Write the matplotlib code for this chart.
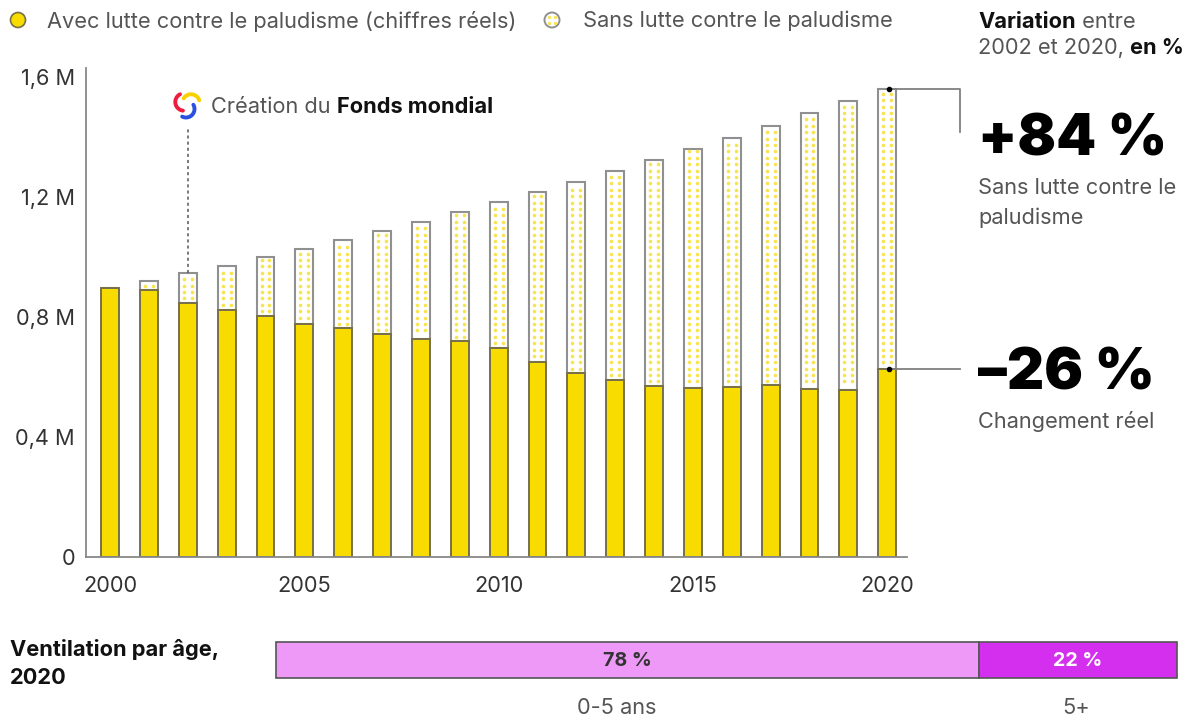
"""Paludisme chart."""
import matplotlib
matplotlib.use("Agg")
import matplotlib.pyplot as plt
from matplotlib.patches import Circle
import numpy as np

plt.rcParams["font.family"] = ["Inter", "DejaVu Sans"]

years = list(range(2000, 2021))
real_values = [0.897, 0.890, 0.847, 0.823, 0.803, 0.777, 0.763, 0.743, 0.727, 0.720, 0.697,
               0.650, 0.613, 0.590, 0.570, 0.563, 0.567, 0.573, 0.560, 0.557, 0.627]
total_values = [0.897, 0.920, 0.947, 0.970, 1.000, 1.027, 1.057, 1.087, 1.117, 1.150, 1.183,
                1.217, 1.250, 1.287, 1.323, 1.360, 1.397, 1.437, 1.480, 1.520, 1.560]
y_ticks = [0, 0.4, 0.8, 1.2, 1.6]
y_labels = ["0", "0,4 M", "0,8 M", "1,2 M", "1,6 M"]
x_ticks = [2000, 2005, 2010, 2015, 2020]
age_labels = ["0-5 ans", "5+"]
age_values = [78, 22]

YELLOW = "#F8DC00"
DOT = "#F8E450"
GREY = "#808080"
TEXT = "#555555"
DARK = "#111111"
FS = 15.7
W, H = 1190, 719

fig = plt.figure(figsize=(W / 100, H / 100), dpi=100)


def px_axes(left, top, right, bottom):
    return fig.add_axes([left / W, 1 - bottom / H, (right - left) / W, (bottom - top) / H])


# Overlay in pixel coordinates, for the text around the chart
over = fig.add_axes([0, 0, 1, 1], zorder=5)
over.set_xlim(0, W)
over.set_ylim(H, 0)
over.axis("off")


def label(x, y, text, **kwargs):
    kwargs.setdefault("fontsize", FS)
    kwargs.setdefault("color", TEXT)
    return over.text(x, y, text, va="center", ha="left", **kwargs)


def rich_text(x, y, parts):
    """Write (text, bold) pieces one after the other on a line."""
    renderer = fig.canvas.get_renderer()
    for text, bold in parts:
        t = label(x, y, text, color=DARK if bold else TEXT,
                  fontweight="bold" if bold else "normal")
        x += t.get_window_extent(renderer).width


# Main chart
ax = px_axes(86, 68, 907, 557)
ax.set_xlim(1999.38, 2020.51)
ax.set_ylim(0, 1.63)
missing = [t - r for t, r in zip(total_values, real_values)]
ax.bar(years, missing, bottom=real_values, width=0.46, fill=False,
       edgecolor="#909090", linewidth=1.5)
ax.bar(years, real_values, width=0.46, color=YELLOW, edgecolor="#77704a", linewidth=1.4)

# Dotted fill of the "sans lutte" part
for year, low, high in zip(years, real_values, total_values):
    levels = np.arange(0.01, 1.6, 0.0213)
    levels = levels[(levels > low + 0.008) & (levels < high - 0.008)]
    for offset in [-0.1, 0.1]:
        ax.plot(np.full(len(levels), year + offset), levels, ls="none", marker="o",
                ms=2.6, mew=0, color=DOT)

for side in ["top", "right"]:
    ax.spines[side].set_visible(False)
for side in ["left", "bottom"]:
    ax.spines[side].set_color("#888888")
    ax.spines[side].set_linewidth(1.3)
ax.set_yticks(y_ticks, y_labels, fontsize=FS, color="#333333")
ax.set_xticks(x_ticks, [str(v) for v in x_ticks], fontsize=FS, color="#333333")
ax.tick_params(axis="both", length=0)
ax.tick_params(axis="x", pad=14)
ax.tick_params(axis="y", pad=8)

# Fonds mondial marker
ax.plot([2002, 2002], [total_values[2], 1.43], color="#555555", lw=1.1, ls=(0, (2, 2)))
blades = [((184, 102), 8.7, 117, 263, "#EE1C3E"),
          ((191, 103), 8.7, 18, 148, "#F8D000"),
          ((186, 109), 8.5, -117, 30, "#2B4FE0")]
for center, radius, start, end, colour in blades:
    angle = np.radians(np.linspace(start, end, 30))
    over.plot(center[0] + radius * np.cos(angle), center[1] - radius * np.sin(angle),
              color=colour, lw=2.8, solid_capstyle="round")
fig.canvas.draw()
rich_text(211, 107, [("Création du ", False), ("Fonds mondial", True)])

# Connectors to the variation figures
ax.plot([2020, 2021.88, 2021.88], [total_values[-1], total_values[-1], 1.417],
        color=GREY, lw=1.3, clip_on=False, zorder=4)
ax.plot([2020, 2021.88], [real_values[-1], real_values[-1]],
        color=GREY, lw=1.3, clip_on=False, zorder=4)
ax.plot([2020.05, 2020.05], [total_values[-1], real_values[-1]], ls="none", marker="o", ms=3,
        color="black", clip_on=False, zorder=5)

# Legend
over.add_patch(Circle((18, 20), 7.5, facecolor=YELLOW, edgecolor="#77704a", lw=1.2))
label(47, 21, "Avec lutte contre le paludisme (chiffres réels)")
over.add_patch(Circle((552, 20), 7.5, facecolor="white", edgecolor="#909090", lw=1.4))
over.plot([549, 555, 549, 555], [17, 17, 23, 23], ls="none", marker="o", ms=2.4, mew=0, color=DOT)
label(583, 21, "Sans lutte contre le paludisme")

# Right column
rich_text(978, 22, [("Variation", True), (" entre", False)])
rich_text(978, 48, [("2002 et 2020, ", False), ("en %", True)])
label(978, 140, "+84 %", fontsize=41, fontweight="black", color="black")
label(978, 188, "Sans lutte contre le")
label(978, 218, "paludisme")
label(978, 375, "–26 %", fontsize=41.5, fontweight="black", color="black")
label(978, 422, "Changement réel")

# Age split
bar_ax = px_axes(276, 642, 1177, 678)
bar_ax.set_xlim(0, sum(age_values))
bar_ax.set_ylim(0, 1)
bar_ax.axis("off")
age_colours = ["#EE99F8", "#D42FEF"]
age_text = ["#333333", "white"]
name_shift = [-1.2, -0.2]
start = 0
for name, value, colour, tcolour, shift in zip(age_labels, age_values, age_colours, age_text, name_shift):
    bar_ax.barh(0.5, value, left=start, height=1, color=colour, edgecolor="#555555",
                linewidth=1.2, clip_on=False)
    bar_ax.text(start + value / 2, 0.47, f"{value} %", ha="center", va="center",
                fontsize=14.2, fontweight="bold", color=tcolour)
    bar_ax.text(start + value / 2 + shift, -0.82, name, ha="center", va="center",
                fontsize=FS, color=TEXT, clip_on=False)
    start += value
label(10, 649, "Ventilation par âge,", fontweight="bold", color=DARK)
label(10, 678, "2020", fontweight="bold", color=DARK)

fig.savefig("out.png", dpi=100)
